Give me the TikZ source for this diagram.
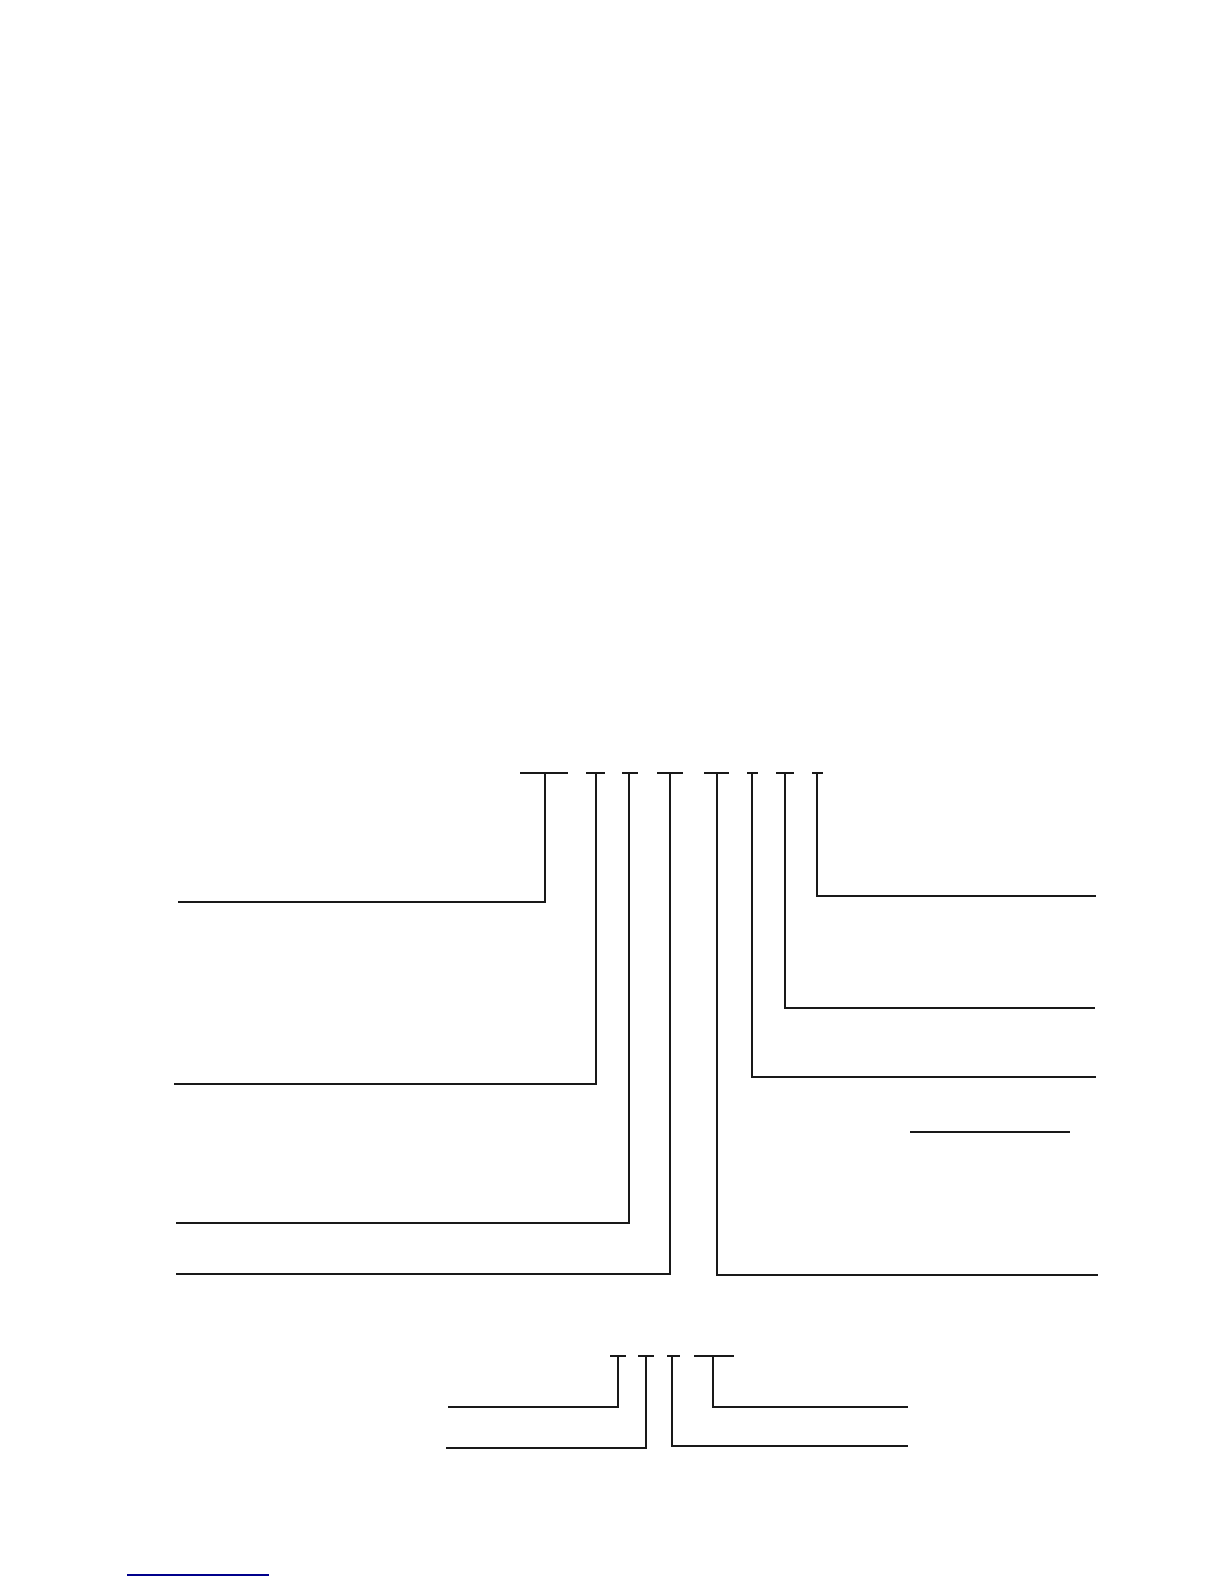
\documentclass[tikz,border=0pt]{standalone}
\usepackage{tikz}
\tikzstyle{leader} = [line width=1pt, black!90, line cap=rect]
\tikzstyle{tbar} = [line width=0.9pt, black!90]
\tikzstyle{link} = [line width=1pt, blue!55!black]

\begin{document}
\begin{tikzpicture}[x=0.5pt, y=-0.5pt]
\useasboundingbox (0,0) rectangle (1224,1584);
% upper row of bars
\coordinate (topA) at (545,773);
\coordinate (topB) at (596,773);
\coordinate (topC) at (629,773);
\coordinate (topD) at (670,773);
\coordinate (topE) at (717,773);
\coordinate (topF) at (752,773);
\coordinate (topG) at (785,773);
\coordinate (topH) at (817,773);
\coordinate (endA) at (179,902);
\coordinate (endB) at (175,1084);
\coordinate (endC) at (177,1223);
\coordinate (endD) at (177,1274);
\coordinate (endE) at (1097,1275);
\coordinate (endF) at (1095,1077);
\coordinate (endG) at (1094,1008);
\coordinate (endH) at (1095,896);
\draw [tbar] (520,773) -- (568,773);
\draw [tbar] (586,773) -- (605,773);
\draw [tbar] (622,773) -- (638,773);
\draw [tbar] (657,773) -- (683,773);
\draw [tbar] (704,773) -- (729,773);
\draw [tbar] (747,773) -- (758,773);
\draw [tbar] (776,773) -- (794,773);
\draw [tbar] (812,773) -- (823,773);
\draw [leader] (topA) |- (endA);
\draw [leader] (topB) |- (endB);
\draw [leader] (topC) |- (endC);
\draw [leader] (topD) |- (endD);
\draw [leader] (topE) |- (endE);
\draw [leader] (topF) |- (endF);
\draw [leader] (topG) |- (endG);
\draw [leader] (topH) |- (endH);
% loose line on the right
\coordinate (freeL) at (910,1132);
\coordinate (freeR) at (1070,1132);
\draw [tbar] (freeL) -- (freeR);
% lower row of bars
\coordinate (lowA) at (618,1356);
\coordinate (lowB) at (646,1356);
\coordinate (lowC) at (672,1356);
\coordinate (lowD) at (713,1356);
\coordinate (lendA) at (449,1407);
\coordinate (lendB) at (447,1448);
\coordinate (lendC) at (907,1446);
\coordinate (lendD) at (907,1407);
\draw [tbar] (610,1356) -- (626,1356);
\draw [tbar] (638,1356) -- (654,1356);
\draw [tbar] (667,1356) -- (680,1356);
\draw [tbar] (694,1356) -- (734,1356);
\draw [leader] (lowA) |- (lendA);
\draw [leader] (lowB) |- (lendB);
\draw [leader] (lowC) |- (lendC);
\draw [leader] (lowD) |- (lendD);
% underline at the foot
\coordinate (linkL) at (127,1575);
\coordinate (linkR) at (269,1575);
\draw [link] (linkL) -- (linkR);
\end{tikzpicture}
\end{document}
